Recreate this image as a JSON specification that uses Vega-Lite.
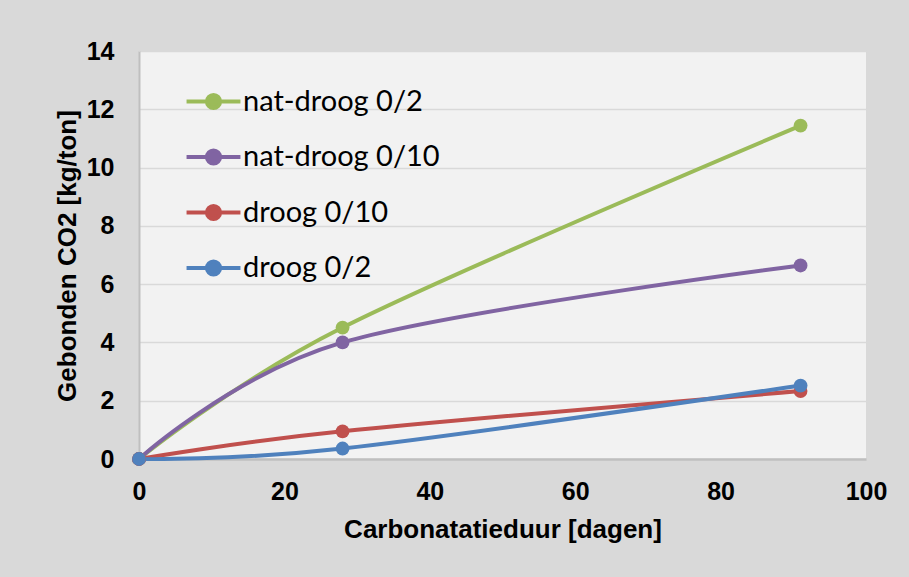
{
  "$schema": "https://vega.github.io/schema/vega-lite/v6.json",
  "autosize": "none",
  "width": 727,
  "height": 408,
  "padding": {"left": 139, "top": 51, "right": 43, "bottom": 118},
  "background": "#d9d9d9",
  "config": {
    "font": "Liberation Sans",
    "view": {"fill": "#f2f2f2", "stroke": null}
  },
  "data": {
    "values": [
      {"series": "nat-droog 0/2", "dagen": 0, "co2": 0},
      {"series": "nat-droog 0/2", "dagen": 28, "co2": 4.51},
      {"series": "nat-droog 0/2", "dagen": 91, "co2": 11.44},
      {"series": "nat-droog 0/10", "dagen": 0, "co2": 0},
      {"series": "nat-droog 0/10", "dagen": 28, "co2": 4.0},
      {"series": "nat-droog 0/10", "dagen": 91, "co2": 6.64},
      {"series": "droog 0/10", "dagen": 0, "co2": 0},
      {"series": "droog 0/10", "dagen": 28, "co2": 0.95},
      {"series": "droog 0/10", "dagen": 91, "co2": 2.33},
      {"series": "droog 0/2", "dagen": 0, "co2": 0},
      {"series": "droog 0/2", "dagen": 28, "co2": 0.36},
      {"series": "droog 0/2", "dagen": 91, "co2": 2.52}
    ]
  },
  "encoding": {
    "x": {
      "field": "dagen", "type": "quantitative",
      "scale": {"domain": [0, 100], "nice": false},
      "axis": {
        "values": [0, 20, 40, 60, 80, 100],
        "title": "Carbonatatieduur [dagen]",
        "grid": false, "ticks": false,
        "domainColor": "#bfbfbf", "domainWidth": 2.5,
        "labelFontSize": 25, "labelFontWeight": "bold", "labelColor": "#000000",
        "labelPadding": 20, "labelFlush": false,
        "titleFontSize": 26, "titleFontWeight": "bold", "titleColor": "#000000",
        "titleBaseline": "alphabetic", "titleY": 78
      }
    },
    "y": {
      "field": "co2", "type": "quantitative",
      "scale": {"domain": [0, 14], "nice": false},
      "axis": {
        "values": [0, 2, 4, 6, 8, 10, 12, 14],
        "title": "Gebonden CO2 [kg/ton]",
        "grid": true, "gridColor": "#d9d9d9", "gridWidth": 1.5,
        "ticks": false,
        "domainColor": "#bfbfbf", "domainWidth": 2,
        "labelFontSize": 25, "labelFontWeight": "bold", "labelColor": "#000000",
        "labelPadding": 25, "labelFlush": false,
        "titleFontSize": 26, "titleFontWeight": "bold", "titleColor": "#000000",
        "titleBaseline": "alphabetic", "titleX": -64, "titleY": 204.5
      }
    },
    "color": {
      "field": "series", "type": "nominal",
      "scale": {
        "domain": ["nat-droog 0/2", "nat-droog 0/10", "droog 0/10", "droog 0/2"],
        "range": ["#9bbb59", "#8064a2", "#c0504d", "#4f81bd"]
      },
      "legend": {
        "title": null,
        "orient": "none",
        "legendX": 60,
        "legendY": 36,
        "padding": 0,
        "symbolType": "M-2.45,0H2.45M-0.6,0A0.6,0.6,0,1,0,0.6,0A0.6,0.6,0,1,0,-0.6,0Z",
        "symbolSize": 484,
        "symbolStrokeWidth": 4,
        "labelFont": "Lato",
        "labelFontSize": 29,
        "labelColor": "#000000",
        "labelOffset": 15,
        "rowPadding": 24.5,
        "labelLimit": 400,
        "encode": {
          "symbols": {
            "update": {
              "fill": {"scale": "color", "field": "value"},
              "stroke": {"scale": "color", "field": "value"},
              "strokeWidth": {"value": 4},
              "opacity": {"value": 1},
              "fillOpacity": {"value": 1}
            }
          }
        }
      }
    }
  },
  "layer": [
    {"mark": {"type": "line", "interpolate": "cardinal", "tension": 0, "strokeWidth": 4}},
    {"mark": {"type": "point", "filled": true, "size": 190, "opacity": 1}}
  ]
}
